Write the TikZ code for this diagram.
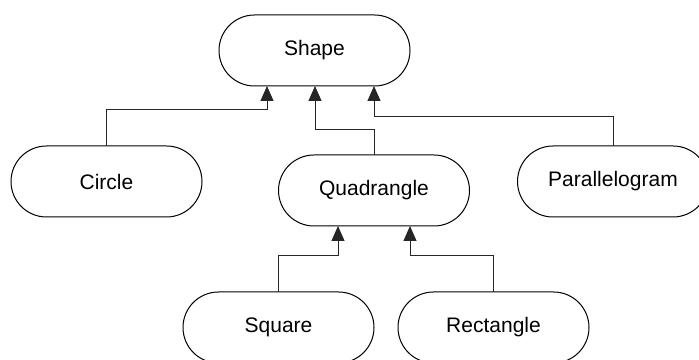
\documentclass[tikz,border=0pt]{standalone}
\usepackage{fontspec}
\setmainfont{Liberation Sans}
\usetikzlibrary{arrows.meta}
\begin{document}
\begin{tikzpicture}[x=1pt,y=1pt,
  cls/.style={draw=black,line width=1pt,rectangle,rounded corners=35.5pt,
    minimum width=191pt,minimum height=71pt,inner sep=0pt,outer sep=0pt,
    font=\fontsize{21}{24}\selectfont},
  link/.style={draw=black!85,line width=1pt,
    -{Triangle[width=13pt,length=15pt]}}]
  \useasboundingbox (0,0) rectangle (699,359);
  \clip (0,0) rectangle (699,359);
  % class nodes
  \node[cls] (shape) at (314.5,308.5) {Shape};
  \node[cls] (circle) at (106.5,177.5) {Circle};
  \node[cls] (quad) at (374,168.5) {Quadrangle};
  \node[cls] (para) at (613,177.5) {Parallelogram};
  \node[cls] (square) at (278.5,31.5) {Square};
  \node[cls] (rect) at (493.5,31.5) {Rectangle};
  % inheritance links
  \draw[link] (circle.north) |- ([xshift=-47.5pt,yshift=-24pt]shape.south) -- ([xshift=-47.5pt]shape.south);
  \draw[link] (quad.north) |- ([xshift=0.5pt,yshift=-44pt]shape.south) -- ([xshift=0.5pt]shape.south);
  \draw[link] (para.north) |- ([xshift=59.5pt,yshift=-31pt]shape.south) -- ([xshift=59.5pt]shape.south);
  \draw[link] (square.north) |- ([xshift=-36pt,yshift=-30pt]quad.south) -- ([xshift=-36pt]quad.south);
  \draw[link] (rect.north) |- ([xshift=36pt,yshift=-30pt]quad.south) -- ([xshift=36pt]quad.south);
\end{tikzpicture}
\end{document}
